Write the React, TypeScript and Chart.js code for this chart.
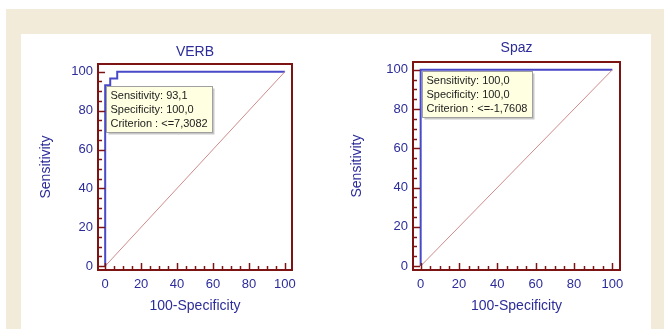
import React, { useEffect, useRef } from 'react';
import { Chart, registerables } from 'chart.js';
Chart.register(...registerables);

// ---- data ----
const verbFpr = [0, 0, 2.8, 2.8, 6.7, 6.7, 100];
const verbTpr = [0, 93.1, 93.1, 96.6, 96.6, 100, 100];
const spazFpr = [0, 0, 100];
const spazTpr = [0, 100, 100];
const diagX = [0, 100];
const diagY = [0, 100];
const tickValues = [0, 20, 40, 60, 80, 100];
const verbBox = ['Sensitivity: 93,1', 'Specificity: 100,0', 'Criterion : <=7,3082'];
const spazBox = ['Sensitivity: 100,0', 'Specificity: 100,0', 'Criterion : <=-1,7608'];
const verbBoxAnchor = [0.7, 92.5];
const spazBoxAnchor = [0.5, 99.5];

const FONT = "'Liberation Sans', Arial, sans-serif";
const BLUE_TEXT = '#2c2c9a';
const ROC_BLUE = '#4848c8';
const DIAG = '#d08a8a';
const FRAME = '#7c1414';

const framePlugin = {
  id: 'frame',
  afterDatasetsDraw(chart: any, _args: any, opts: any) {
    const { ctx, chartArea: a, scales } = chart;
    const xs = scales.x;
    const ys = scales.y;
    ctx.save();
    // frame
    ctx.strokeStyle = FRAME;
    ctx.lineWidth = 2;
    ctx.strokeRect(a.left, a.top, a.right - a.left, a.bottom - a.top);
    // inward ticks
    ctx.lineWidth = 1.5;
    for (let v = 0; v <= 100; v += 5) {
      const len = v % 20 === 0 ? 6 : 3;
      const py = Math.round(ys.getPixelForValue(v)) + 0.5;
      ctx.beginPath();
      ctx.moveTo(a.left, py);
      ctx.lineTo(a.left + len + 1, py);
      ctx.stroke();
      const px = Math.round(xs.getPixelForValue(v)) + 0.5;
      ctx.beginPath();
      ctx.moveTo(px, a.bottom);
      ctx.lineTo(px, a.bottom - len - 1);
      ctx.stroke();
    }
    // annotation box
    const lines: string[] = opts.lines;
    ctx.font = `11px ${FONT}`;
    let w = 0;
    lines.forEach((l) => { w = Math.max(w, ctx.measureText(l).width); });
    const bx = Math.round(xs.getPixelForValue(opts.anchor[0])) + 0.5;
    const by = Math.round(ys.getPixelForValue(opts.anchor[1])) + 0.5;
    const bw = Math.round(w + 9);
    const bh = lines.length * 14 + 4;
    ctx.fillStyle = 'rgba(0,0,0,0.22)';
    ctx.fillRect(bx + 2, by + 2, bw, bh);
    ctx.fillStyle = '#ffffe1';
    ctx.fillRect(bx, by, bw, bh);
    ctx.strokeStyle = '#a0a0a0';
    ctx.lineWidth = 1;
    ctx.strokeRect(bx, by, bw, bh);
    ctx.fillStyle = '#222222';
    ctx.textBaseline = 'middle';
    ctx.textAlign = 'left';
    lines.forEach((l, i) => { ctx.fillText(l, bx + 4, by + 9 + i * 14); });
    // title
    ctx.font = `14px ${FONT}`;
    ctx.fillStyle = BLUE_TEXT;
    ctx.textAlign = 'center';
    ctx.textBaseline = 'middle';
    ctx.fillText(opts.title, (a.left + a.right) / 2, opts.titleY);
    ctx.restore();
  },
};

type Props = {
  title: string;
  fpr: number[];
  tpr: number[];
  lines: string[];
  anchor: number[];
  left: number;
  padRight: number;
  padTop: number;
  yWidth: number;
  yTitlePad: number;
  titleY: number;
};

function RocChart(p: Props) {
  const ref = useRef<HTMLCanvasElement>(null);
  useEffect(() => {
    if (!ref.current) return;
    const chart = new Chart(ref.current, {
      type: 'line',
      data: {
        datasets: [
          {
            data: diagX.map((x, i) => ({ x, y: diagY[i] })),
            borderColor: DIAG,
            borderWidth: 1,
            pointRadius: 0,
            tension: 0,
          },
          {
            data: p.fpr.map((x, i) => ({ x, y: p.tpr[i] })),
            borderColor: ROC_BLUE,
            borderWidth: 2,
            pointRadius: 0,
            tension: 0,
          },
        ],
      },
      options: {
        responsive: false,
        animation: false,
        devicePixelRatio: 1,
        layout: { padding: { left: 0, right: p.padRight, top: p.padTop, bottom: 0 } },
        plugins: {
          legend: { display: false },
          title: { display: false },
          tooltip: { enabled: false },
          frame: { lines: p.lines, anchor: p.anchor, title: p.title, titleY: p.titleY },
        } as any,
        scales: {
          x: {
            type: 'linear',
            min: -4,
            max: 104,
            grid: { display: false, drawTicks: false },
            border: { display: false },
            afterBuildTicks: (s: any) => { s.ticks = tickValues.map((v) => ({ value: v })); },
            afterFit: (s: any) => { s.height = 55; },
            ticks: { color: BLUE_TEXT, font: { family: FONT, size: 13 }, padding: 7, maxRotation: 0 },
            title: {
              display: true,
              text: '100-Specificity',
              color: BLUE_TEXT,
              font: { family: FONT, size: 14 },
              padding: { top: 0, bottom: 10 },
            },
          },
          y: {
            type: 'linear',
            min: -2,
            max: 104,
            grid: { display: false, drawTicks: false },
            border: { display: false },
            afterBuildTicks: (s: any) => { s.ticks = tickValues.map((v) => ({ value: v })); },
            afterFit: (s: any) => { s.width = p.yWidth; },
            ticks: { color: BLUE_TEXT, font: { family: FONT, size: 13 }, padding: 5 },
            title: {
              display: true,
              text: 'Sensitivity',
              color: BLUE_TEXT,
              font: { family: FONT, size: 14 },
              padding: { top: p.yTitlePad, bottom: 0 },
            },
          },
        },
      },
      plugins: [framePlugin],
    });
    return () => chart.destroy();
  }, []);
  return (
    <canvas
      ref={ref}
      width={310}
      height={291}
      style={{ position: 'absolute', left: p.left, top: 34, display: 'block' }}
    />
  );
}

export default function App() {
  return (
    <div style={{ position: 'fixed', left: 0, top: 0, width: 664, height: 329, background: '#ffffff', overflow: 'hidden' }}>
      <div style={{ position: 'absolute', left: 6, top: 9, width: 658, height: 320, background: '#f2ebda' }} />
      <div style={{ position: 'absolute', left: 21, top: 34, width: 630, height: 295, background: '#ffffff' }} />
      <RocChart
        title="VERB"
        fpr={verbFpr}
        tpr={verbTpr}
        lines={verbBox}
        anchor={verbBoxAnchor}
        left={22}
        padRight={40}
        padTop={30}
        yWidth={76}
        yTitlePad={16}
        titleY={18}
      />
      <RocChart
        title="Spaz"
        fpr={spazFpr}
        tpr={spazTpr}
        lines={spazBox}
        anchor={spazBoxAnchor}
        left={335}
        padRight={25}
        padTop={28}
        yWidth={78}
        yTitlePad={14}
        titleY={14}
      />
    </div>
  );
}
